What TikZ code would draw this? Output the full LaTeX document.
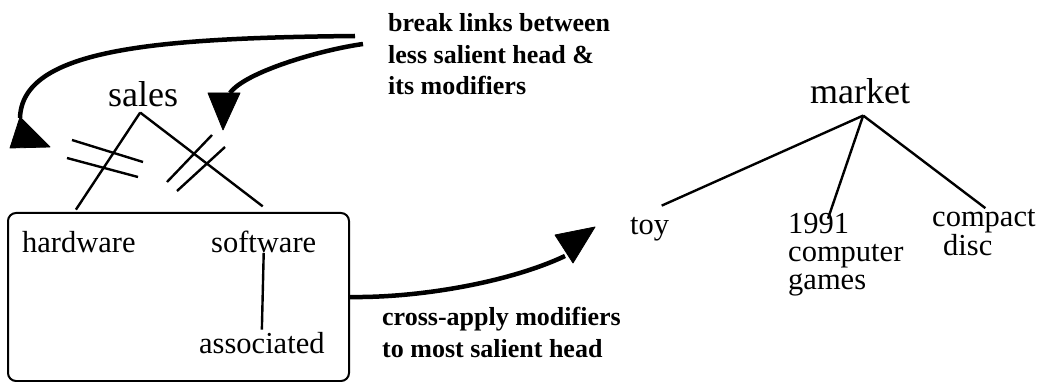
\documentclass[tikz,border=0pt]{standalone}
\usepackage{fontspec}
\setmainfont{Liberation Serif}
\usetikzlibrary{calc}
\begin{document}
\begin{tikzpicture}[x=1pt,y=-1pt,
  head/.style={inner sep=0pt, anchor=base west, font=\fontsize{36}{40}\selectfont},
  leaf/.style={inner sep=0pt, anchor=base west, align=left, font=\fontsize{30.5}{28.5}\selectfont},
  note/.style={inner sep=0pt, anchor=base west, align=left, font=\bfseries\fontsize{26}{31.7}\selectfont},
  link/.style={line width=2.4pt},
  cut/.style={line width=2.4pt},
  bigarrow/.style={line width=4.5pt},
  tiphead/.style={fill=black, draw=black, line width=0.8pt, line join=round},
  group/.style={draw, line width=2pt, rounded corners=8pt, minimum width=341pt, minimum height=168pt, inner sep=0pt}]
\useasboundingbox (0,0) rectangle (1039,382);

% ---- left tree: sales ----
\node[head] (sales) at (108,107) {sales};
\node[group] (grp) at (178.5,297) {};
\node[leaf] (hw) at (22,253) {hardware};
\node[leaf] (sw) at (211,253) {software};
\node[leaf] (assoc) at (199,353) {associated};

\coordinate (sroot) at ($(sales.south)+(-3,5)$);
\draw[link] (sroot) -- ($(hw.north)+(-3,-22)$);
\draw[link] (sroot) -- ($(sw.north)+(-1,-25)$);
\draw[link] (sw.base) -- ($(assoc.north)+(0,-2)$);

% double strokes cutting the two links
\draw[cut] (72,140) -- (143,162);
\draw[cut] (67,158) -- (138,177);
\draw[cut] (167,182) -- (212,135);
\draw[cut] (177,191) -- (225,147);

% ---- notes (anchored on the baseline of the last line) ----
\node[note] (brk) at (388,95) {break links between\\less salient head \&\\its modifiers};
\node[note] (cross) at (382,357) {cross-apply modifiers\\to most salient head};

% ---- curved arrows ----
\coordinate (a1) at (355,36);
\coordinate (a1e) at (20,118);
\coordinate (a2) at (363,44);
\coordinate (a2e) at (230,93);
\coordinate (a3e) at (565,256);

\draw[bigarrow] (a1) .. controls (150,38) and (22,50) .. (a1e);
\fill[tiphead] (20,117) -- (10,148) -- (50,147) -- cycle;

\draw[bigarrow] (a2) .. controls (320,50) and (245,72) .. (a2e);
\fill[tiphead] (208,93) -- (240,93) -- (223,130) -- cycle;

\draw[bigarrow] (grp.east) .. controls (420,298) and (510,282) .. (a3e);
\fill[tiphead] (555,235) -- (573,263) -- (595,227) -- cycle;

% ---- right tree: market ----
\node[head] (market) at (810,104) {market};
\node[leaf] (toy) at (630,235) {toy};
\node[leaf] (cg) at (788,290) {1991\\computer\\games};
\node[leaf] (cd) at (932,255) {compact\\\hspace*{11pt}disc};

\coordinate (mroot) at ($(market.south)+(3,11)$);
\draw[link] (mroot) -- ($(toy.north)+(12,-12)$);
\draw[link] (mroot) -- ($(cg.north west)+(40,6)$);
\draw[link] (mroot) -- ($(cd.north)+(1.5,-1)$);
\end{tikzpicture}
\end{document}
